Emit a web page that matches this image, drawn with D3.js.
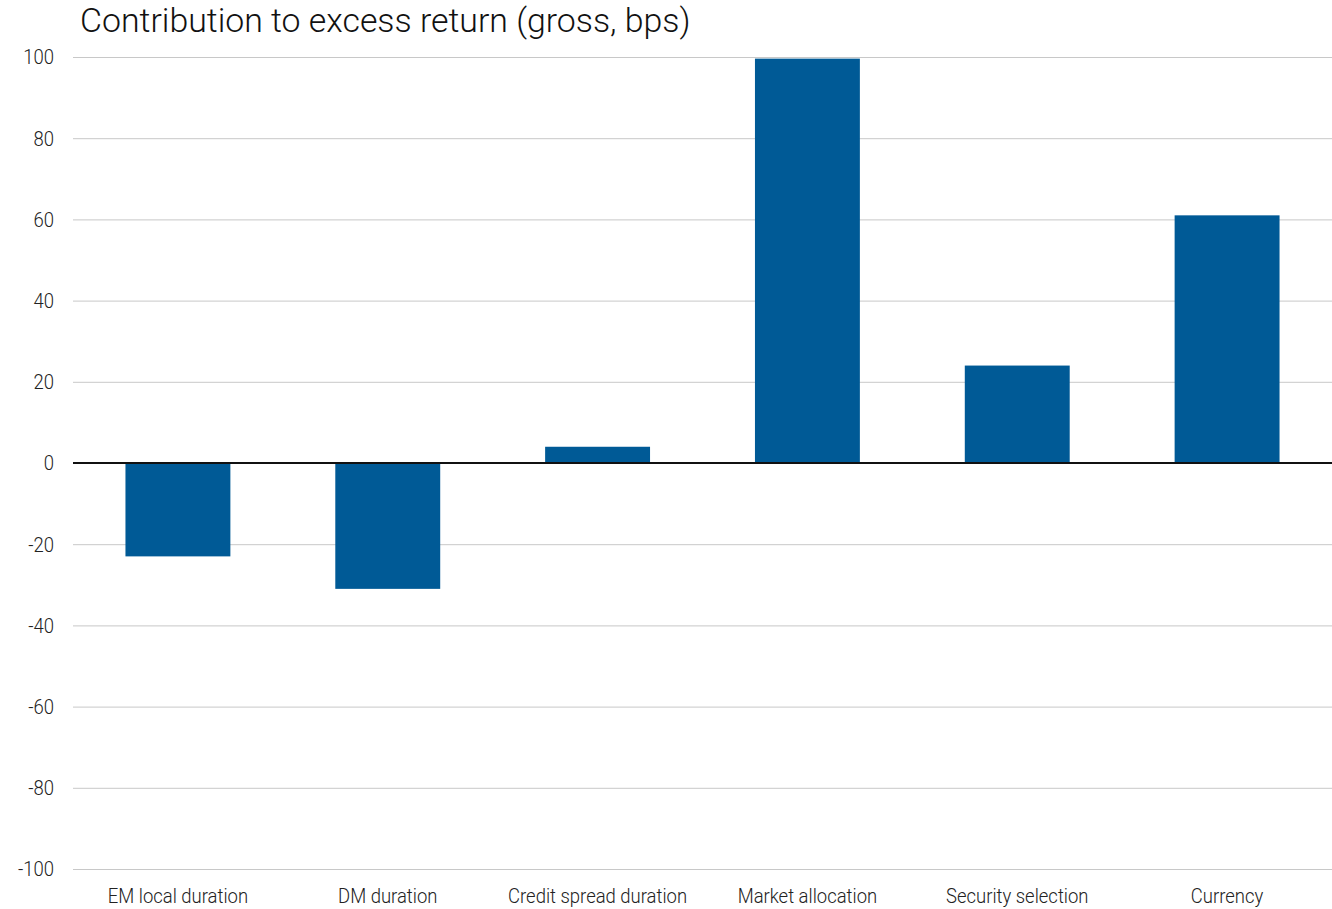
<!DOCTYPE html>
<html><head><meta charset="utf-8">
<script src="https://cdn.jsdelivr.net/npm/d3@7"></script>
<style>
body{margin:0;background:#fff;}
text{font-family:Roboto,"Liberation Sans",sans-serif;font-weight:300;fill:#222;}
</style></head>
<body><svg id="c" width="1332" height="909"></svg>
<script>
const categories = ["EM local duration","DM duration","Credit spread duration","Market allocation","Security selection","Currency"];
const values = [-23, -31, 4, 99.6, 24, 61];
const yTicks = [-100,-80,-60,-40,-20,0,20,40,60,80,100];
const title = "Contribution to excess return (gross, bps)";

(function(){
const svg = d3.select("#c");
const mL = 73, mR = 1332, mT = 57, mB = 869;
const x = d3.scaleBand().domain(categories).range([mL, mR]).paddingInner(0.5).paddingOuter(0.25);
const y = d3.scaleLinear().domain([-100, 100]).range([mB, mT]);

svg.append("g").selectAll("line").data(yTicks.filter(d=>d!==0)).join("line")
  .attr("x1", mL).attr("x2", mR)
  .attr("y1", d=>y(d)+0.5).attr("y2", d=>y(d)+0.5)
  .attr("stroke", "#c8c8c8").attr("stroke-width", 1);

const yl = svg.append("g").selectAll("text").data(yTicks).join("text")
  .attr("x", 54).attr("y", d=>y(d)).attr("dy","0.35em")
  .attr("text-anchor","end").style("font-size","21px")
  .text(d=>d);

svg.append("g").selectAll("rect").data(values).join("rect")
  .attr("x", (d,i)=>x(categories[i]))
  .attr("width", x.bandwidth())
  .attr("y", d=>y(Math.max(0,d)))
  .attr("height", d=>Math.abs(y(d)-y(0)))
  .attr("fill", "#005a96");

svg.append("line").attr("x1", mL).attr("x2", mR)
  .attr("y1", y(0)).attr("y2", y(0)).attr("stroke","#111").attr("stroke-width",2);

const xl = svg.append("g").selectAll("text").data(categories).join("text")
  .attr("x", d=>x(d)+x.bandwidth()/2).attr("y", 896).attr("dy","0.35em")
  .attr("text-anchor","middle").style("font-size","21px")
  .text(d=>d);

const t = svg.append("text").attr("x", 80).attr("y", 32)
  .style("font-size","33px").style("font-weight","300").style("fill","#111").text(title);

function condense(sel, factor){
  sel.each(function(){
    const el = d3.select(this);
    const ax = +el.attr("x");
    el.attr("transform", `translate(${ax},0) scale(${factor},1) translate(${-ax},0)`);
  });
}
condense(yl, 0.88);
condense(xl, 0.88);
const tw = t.node().getComputedTextLength();
condense(t, 611 / tw);
})();
</script></body></html>
